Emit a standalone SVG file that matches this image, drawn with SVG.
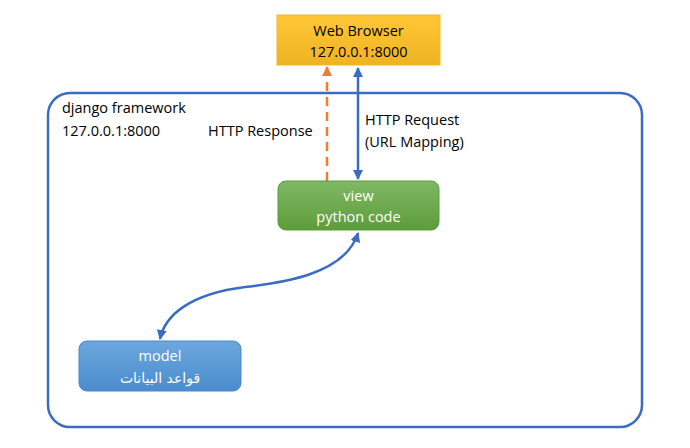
<svg xmlns="http://www.w3.org/2000/svg" width="690" height="448" viewBox="0 0 690 448">
<style>
text{font-family:"Open Sans","Liberation Sans",sans-serif;font-size:14.5px;}
.dark{fill:#000;}
.light{fill:#fff;text-anchor:middle;}
.blue{stroke:#3b6cc3;stroke-width:2.5;fill:none;}
.orange{stroke:#ef7b35;stroke-width:2.5;fill:none;stroke-dasharray:9,6;}
</style>
<defs>
<linearGradient id="gy" x1="0" y1="0" x2="0" y2="1"><stop offset="0" stop-color="#ffc737"/><stop offset="1" stop-color="#eeb322"/></linearGradient>
<linearGradient id="gg" x1="0" y1="0" x2="0" y2="1"><stop offset="0" stop-color="#80b865"/><stop offset="1" stop-color="#5d9c3b"/></linearGradient>
<linearGradient id="gb" x1="0" y1="0" x2="0" y2="1"><stop offset="0" stop-color="#6da7de"/><stop offset="1" stop-color="#4a8ccd"/></linearGradient>
<marker id="ab" viewBox="0 0 10 10" refX="9" refY="5" markerWidth="4" markerHeight="4" orient="auto-start-reverse"><path d="M0,0 L10,5 L0,10 z" fill="#3b6cc3"/></marker>
<marker id="ao" viewBox="0 0 10 10" refX="9" refY="5" markerWidth="4" markerHeight="4" orient="auto"><path d="M0,0 L10,5 L0,10 z" fill="#ef7b35"/></marker>
</defs>
<g id="frame">
<rect x="48" y="93" width="594" height="334" rx="22" fill="none" stroke="#3b6cc3" stroke-width="2.5"/>
<text class="dark" x="62" y="113">django framework</text>
<text class="dark" x="62" y="136">127.0.0.1:8000</text>
</g>
<g id="connectors">
<line class="orange" x1="327" y1="181" x2="327" y2="67" marker-end="url(#ao)"/>
<line class="blue" x1="358" y1="68" x2="358" y2="179" marker-start="url(#ab)" marker-end="url(#ab)"/>
<path class="blue" d="M358,233 C345,275 280,283 245,287 C190,294 165,315 160,339" marker-start="url(#ab)" marker-end="url(#ab)"/>
<text class="dark" x="208" y="136">HTTP Response</text>
<text class="dark" x="365" y="125">HTTP Request</text>
<text class="dark" x="365" y="147">(URL Mapping)</text>
</g>
<g id="browser">
<rect x="277" y="15" width="163" height="50" fill="url(#gy)" stroke="#f0b828" stroke-width="1"/>
<text class="dark" x="358.5" y="36" text-anchor="middle">Web Browser</text>
<text class="dark" x="358.5" y="57" text-anchor="middle">127.0.0.1:8000</text>
</g>
<g id="view">
<rect x="278" y="181" width="161" height="49" rx="8" fill="url(#gg)" stroke="#5a9a3c" stroke-width="1"/>
<text class="light" x="358.5" y="201">view</text>
<text class="light" x="358.5" y="222">python code</text>
</g>
<g id="model">
<rect x="79" y="341" width="162" height="50" rx="8" fill="url(#gb)" stroke="#4a88c8" stroke-width="1"/>
<text class="light" x="160" y="361">model</text>
<text class="light" x="160" y="383" direction="rtl" style="font-family:'DejaVu Sans','Noto Sans',sans-serif;font-size:14px">قواعد البيانات</text>
</g>
</svg>
